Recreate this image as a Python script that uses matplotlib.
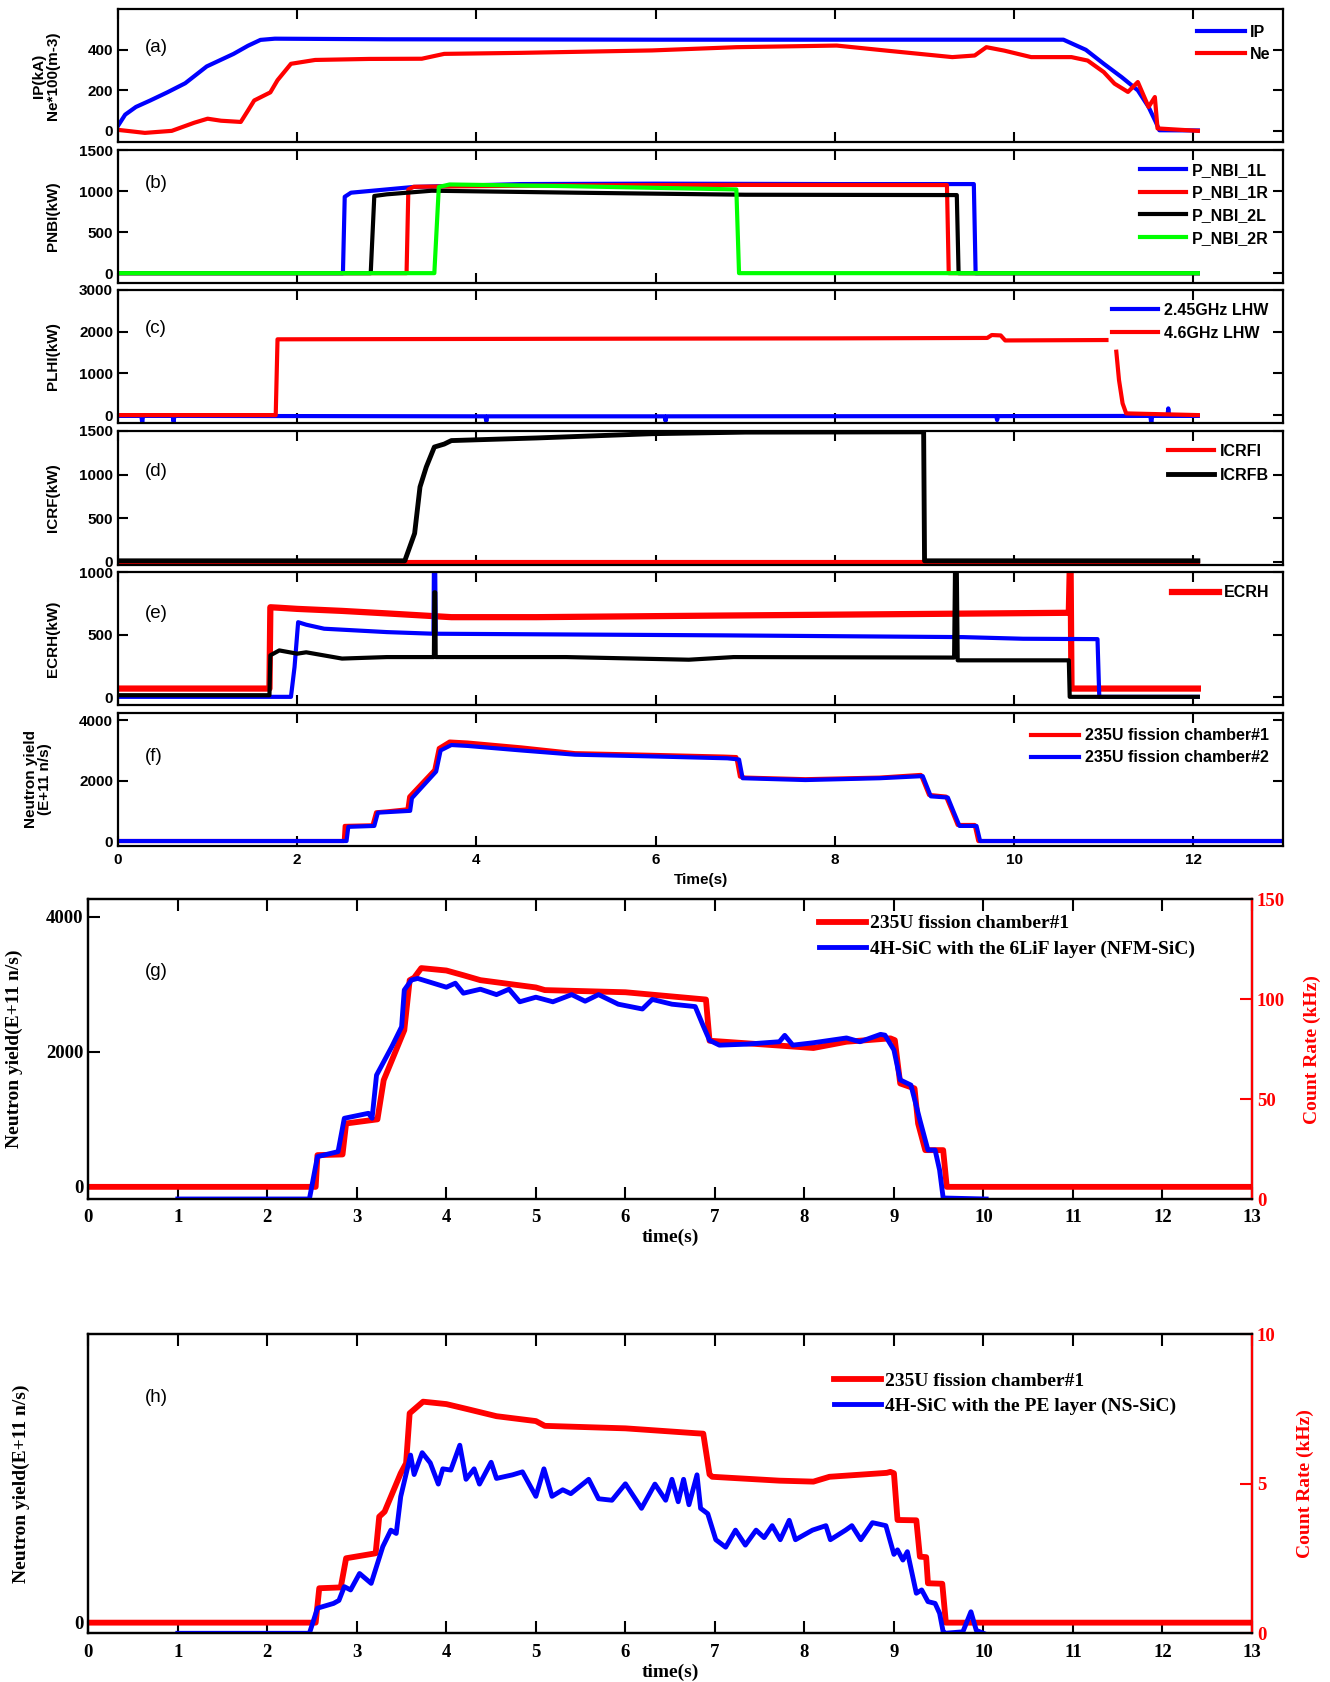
import numpy as np
import matplotlib.pyplot as plt

plt.rcParams['font.family'] = 'Liberation Sans'
plt.rcParams['font.weight'] = 'bold'
plt.rcParams['axes.linewidth'] = 1.6

nan = np.nan

# ---------------- (a) plasma current / density
ip = [(0, 25), (0.08, 80), (0.2, 118), (0.36, 150), (0.55, 190), (0.75, 235), (0.99, 318),
      (1.29, 380), (1.45, 420), (1.59, 449), (1.75, 455), (3.0, 452), (6.0, 450), (9.0, 450),
      (10.55, 450), (10.8, 400), (11.0, 331), (11.2, 265), (11.38, 200), (11.5, 118),
      (11.58, 44), (11.62, 3), (12.05, 2)]
ne = [(0, 5), (0.3, -10), (0.6, 0), (0.85, 40), (1.0, 60), (1.15, 50), (1.37, 44), (1.45, 100),
      (1.52, 150), (1.7, 190), (1.78, 250), (1.93, 331), (2.2, 350), (2.8, 355), (3.39, 356),
      (3.64, 380), (4.5, 385), (5.96, 397), (6.9, 413), (8.02, 421), (8.6, 395), (9.31, 364),
      (9.56, 372), (9.69, 413), (9.89, 396), (10.19, 364), (10.64, 364), (10.82, 347),
      (11.0, 290), (11.12, 233), (11.27, 192), (11.38, 241), (11.5, 118), (11.57, 167),
      (11.6, 12), (12.05, 0)]

# ---------------- (b) NBI
nbi_1l = [(0, 0), (2.51, 0), (2.53, 930), (2.6, 980), (3.3, 1050), (4.5, 1085), (6.0, 1090),
          (8.0, 1085), (9.55, 1085), (9.57, 0), (12.05, 0)]
nbi_1r = [(0, 0), (3.22, 0), (3.24, 1020), (3.3, 1052), (5.0, 1070), (7.0, 1075), (9.25, 1073),
          (9.27, 0), (12.05, 0)]
nbi_2l = [(0, 0), (2.82, 0), (2.86, 940), (3.0, 960), (3.5, 1004), (5.1, 980), (7.0, 955),
          (9.36, 951), (9.38, 0), (12.05, 0)]
nbi_2r = [(0, 0), (3.53, 0), (3.58, 1050), (3.7, 1080), (5.0, 1060), (6.9, 1020), (6.93, 0),
          (12.05, 0)]

# ---------------- (c) LHW
lhw_245 = [(0, -20), (0.26, -20), (0.27, -170), (0.28, -20), (0.61, -20), (0.62, -160),
           (0.63, -20), (4.1, -30), (4.11, -150), (4.12, -30), (6.1, -30), (6.11, -140),
           (6.12, -30), (9.8, -25), (9.81, -120), (9.82, -25), (11.52, -20), (11.53, -200),
           (11.54, -20), (11.71, -20), (11.72, 160), (11.73, -20), (12.05, -20)]
lhw_46 = [(0, 0), (1.76, 0), (1.78, 1817), (2.5, 1820), (5.0, 1830), (8.0, 1840), (9.7, 1850),
          (9.75, 1920), (9.85, 1910), (9.9, 1790), (11.03, 1800), (11.08, nan), (11.14, 1520),
          (11.17, 840), (11.21, 280), (11.25, 40), (12.05, 0)]

# ---------------- (d) ICRF
icrf_i = [(0, 0), (12.05, 0)]
icrf_b = [(0, 10), (3.2, 10), (3.31, 325), (3.37, 858), (3.44, 1087), (3.53, 1316), (3.64, 1350),
          (3.72, 1390), (4.03, 1400), (4.67, 1420), (5.96, 1469), (7.0, 1487), (8.99, 1490),
          (9.0, 10), (12.05, 10)]

# ---------------- (e) ECRH
ecrh_red = [(0, 71), (1.69, 71), (1.70, 719), (1.8, 715), (2.0, 706), (2.5, 690), (3.0, 670),
            (3.72, 640), (4.67, 640), (6.76, 653), (8.0, 660), (10.1, 672), (10.61, 675),
            (10.62, 1000), (10.63, 1000), (10.64, 71), (12.05, 71)]
ecrh_blue = [(0, 5), (1.93, 5), (1.97, 243), (2.01, 600), (2.1, 580), (2.3, 548), (3.0, 521),
             (3.52, 508), (3.525, 1000), (3.54, 1000), (3.545, 508), (6.76, 495), (9.43, 481),
             (10.1, 468), (10.93, 465), (10.95, 5), (12.05, 5)]
ecrh_black = [(0, 18), (1.69, 18), (1.70, 336), (1.8, 375), (2.0, 349), (2.1, 360), (2.5, 310),
              (3.0, 322), (3.525, 322), (3.53, 838), (3.54, 838), (3.545, 322), (5.0, 322),
              (6.37, 301), (6.87, 322), (9.33, 318), (9.34, 1000), (9.36, 1000), (9.37, 296),
              (10.61, 296), (10.62, 5), (12.05, 5)]

# ---------------- (f) neutron yield, two fission chambers
fc1 = [(0, 0), (2.52, 0), (2.53, 500), (2.84, 520), (2.88, 950), (3.0, 980), (3.23, 1050),
       (3.25, 1470), (3.53, 2355), (3.58, 3075), (3.7, 3294), (3.9, 3261), (4.5, 3100),
       (5.1, 2909), (6.0, 2850), (6.76, 2796), (6.9, 2780), (6.94, 2133), (7.0, 2100),
       (7.67, 2047), (8.5, 2100), (8.96, 2189), (9.05, 1526), (9.24, 1470), (9.31, 972),
       (9.37, 531), (9.56, 531), (9.6, 0), (13.0, 0)]
fc2 = [(0, 0), (2.55, 0), (2.57, 470), (2.86, 500), (2.9, 940), (3.26, 1000), (3.28, 1420),
       (3.55, 2300), (3.6, 3000), (3.72, 3180), (3.9, 3150), (4.5, 3000), (5.1, 2860),
       (6.0, 2800), (6.8, 2740), (6.93, 2700), (6.97, 2080), (7.67, 2020), (8.5, 2080),
       (8.98, 2150), (9.07, 1480), (9.26, 1440), (9.33, 930), (9.39, 500), (9.58, 500),
       (9.62, 0), (13.0, 0)]

# ---------------- (g) fission chamber vs NFM-SiC
g_fc = [(0, 0), (2.54, 0), (2.56, 470), (2.84, 480), (2.88, 939), (3.0, 960), (3.23, 1000),
        (3.3, 1581), (3.53, 2321), (3.59, 3061), (3.64, 3098), (3.72, 3241), (4.0, 3205),
        (4.19, 3135), (4.38, 3062), (5.0, 2954), (5.1, 2915), (6.0, 2883), (6.9, 2775),
        (6.94, 2165), (7.72, 2093), (8.1, 2057), (8.47, 2150), (8.96, 2200), (9.01, 2173),
        (9.07, 1532), (9.23, 1458), (9.27, 939), (9.35, 544), (9.55, 544), (9.59, 0), (13.0, 0)]
g_sic = [(1.0, 0), (2.47, 0), (2.56, 21.2), (2.79, 23.7), (2.86, 40.4), (3.13, 42.9),
         (3.17, 40.4), (3.22, 62), (3.39, 76.2), (3.5, 86.2), (3.53, 104.6), (3.61, 109.6),
         (3.68, 110.4), (4.0, 106), (4.1, 108), (4.19, 103), (4.38, 105), (4.56, 102.3),
         (4.7, 105), (4.82, 98.7), (5.0, 101), (5.19, 98.7), (5.4, 102.3), (5.55, 99),
         (5.7, 102.3), (5.92, 97.5), (6.19, 95.1), (6.3, 99.9), (6.52, 97.5), (6.78, 96.3),
         (6.87, 86.6), (6.94, 79.4), (7.05, 77), (7.35, 77.5), (7.72, 78.7), (7.78, 81.9),
         (7.87, 77), (8.1, 78.2), (8.47, 80.6), (8.62, 78.7), (8.85, 82.4), (8.9, 82),
         (9.0, 74.6), (9.07, 59.6), (9.19, 57), (9.29, 39.5), (9.38, 24.5), (9.46, 24.5),
         (9.51, 14.5), (9.55, 0.5), (10.03, 0)]

# ---------------- (h) fission chamber vs NS-SiC
h_fc = [(0, 0), (2.54, 0), (2.58, 498), (2.82, 510), (2.88, 932), (3.21, 1004), (3.25, 1534),
        (3.31, 1606), (3.49, 2162), (3.55, 2307), (3.59, 3030), (3.74, 3198), (4.0, 3163),
        (4.23, 3092), (4.56, 2988), (5.0, 2917), (5.1, 2848), (6.0, 2812), (6.78, 2742),
        (6.87, 2735), (6.94, 2146), (6.97, 2111), (7.72, 2055), (8.1, 2041), (8.28, 2111),
        (8.92, 2168), (8.96, 2182), (9.0, 2162), (9.04, 1486), (9.25, 1481), (9.29, 955),
        (9.36, 948), (9.38, 570), (9.54, 563), (9.58, 0), (13.0, 0)]
h_sic = [(1.0, 0), (2.47, 0), (2.56, 0.84), (2.74, 1.0), (2.8, 1.1), (2.86, 1.56), (2.93, 1.45),
         (3.03, 2.0), (3.16, 1.67), (3.29, 2.9), (3.38, 3.45), (3.44, 3.34), (3.49, 4.57),
         (3.6, 5.96), (3.64, 5.31), (3.73, 6.04), (3.82, 5.7), (3.91, 4.99), (3.96, 5.5),
         (4.05, 5.46), (4.15, 6.29), (4.22, 5.15), (4.31, 5.5), (4.37, 4.99), (4.5, 5.72),
         (4.56, 5.18), (4.74, 5.3), (4.85, 5.4), (5.0, 4.58), (5.09, 5.5), (5.18, 4.58),
         (5.3, 4.8), (5.39, 4.67), (5.59, 5.15), (5.7, 4.5), (5.85, 4.45), (6.0, 5.0),
         (6.18, 4.18), (6.33, 4.99), (6.45, 4.45), (6.52, 5.15), (6.59, 4.4), (6.65, 5.15),
         (6.71, 4.3), (6.8, 5.3), (6.84, 4.18), (6.92, 4.0), (7.01, 3.13), (7.12, 2.88),
         (7.23, 3.45), (7.34, 2.95), (7.46, 3.45), (7.55, 3.2), (7.64, 3.6), (7.73, 3.13),
         (7.83, 3.78), (7.9, 3.13), (8.09, 3.45), (8.24, 3.6), (8.29, 3.13), (8.46, 3.45),
         (8.53, 3.6), (8.63, 3.13), (8.76, 3.7), (8.91, 3.6), (9.0, 2.64), (9.04, 2.79),
         (9.1, 2.45), (9.15, 2.73), (9.25, 1.34), (9.31, 1.45), (9.38, 1.06), (9.46, 1.0),
         (9.51, 0.67), (9.55, 0.05), (9.57, 0), (9.77, 0.05), (9.86, 0.72), (9.92, 0.1),
         (10.0, 0)]

W, H = 1330, 1682
fig = plt.figure(figsize=(W / 100, H / 100), dpi=100)


def box(left, top, right, bottom):
    return fig.add_axes([left / W, 1 - bottom / H, (right - left) / W, (bottom - top) / H])


def xy(pairs):
    a = np.array(pairs, dtype=float)
    return a[:, 0], a[:, 1]


def legend(ax, handles, x, y, size, family, spacing, hlen, tpad=0.35):
    ax.legend(handles=handles, loc='upper left', bbox_to_anchor=(x, y), frameon=False,
              borderpad=0, borderaxespad=0, handlelength=hlen, handletextpad=tpad,
              labelspacing=spacing, prop={'family': family, 'weight': 'bold', 'size': size})


# ---------------- top block (a)-(f)
rows = [(9.3, 142), (150, 283), (290, 423), (431, 565), (572, 705), (713, 846)]
ylims = [(-55, 600), (-120, 1500), (-190, 3000), (-38, 1500), (-60, 1000), (-165, 4240)]
yticks = [[0, 200, 400], [0, 500, 1000, 1500], [0, 1000, 2000, 3000],
          [0, 500, 1000, 1500], [0, 500, 1000], [0, 2000, 4000]]
ylabels = ['IP(kA)\nNe*100(m-3)', 'PNBI(kW)', 'PLHI(kW)', 'ICRF(kW)', 'ECRH(kW)',
           'Neutron yield\n(E+11 n/s)']
tags = ['(a)', '(b)', '(c)', '(d)', '(e)', '(f)']
tag_y = [0.71, 0.75, 0.714, 0.70, 0.69, 0.67]

axs = []
for i, (top, bot) in enumerate(rows):
    ax = box(118, top, 1283, bot)
    ax.set_xlim(0, 13)
    ax.set_ylim(*ylims[i])
    ax.set_xticks(range(0, 13, 2))
    ax.set_yticks(yticks[i])
    ax.tick_params(direction='in', length=7, width=1.5, top=True, right=True,
                   labelsize=11, pad=3.5)
    ax.tick_params(axis='x', pad=5)
    if i < 5:
        ax.tick_params(axis='x', labelbottom=False)
    ax.set_ylabel(ylabels[i], fontsize=11, fontweight='bold', linespacing=1.0)
    ax.yaxis.set_label_coords(-0.05, 0.5)
    ax.text(0.023, tag_y[i], tags[i], transform=ax.transAxes, fontsize=13.5,
            fontweight='normal', va='center', ha='left')
    axs.append(ax)

lw = 3
ax = axs[0]
l1, = ax.plot(*xy(ip), color='#0000ff', lw=lw, label='IP')
l2, = ax.plot(*xy(ne), color='#ff0000', lw=lw, label='Ne')
legend(ax, [l1, l2], 0.926, 0.885, 11.5, 'Liberation Sans', 0.45, 3.0)

ax = axs[1]
h1, = ax.plot(*xy(nbi_1l), color='#0000ff', lw=lw, label='P_NBI_1L')
h2, = ax.plot(*xy(nbi_1r), color='#ff0000', lw=lw, label='P_NBI_1R')
h3, = ax.plot(*xy(nbi_2l), color='black', lw=lw, label='P_NBI_2L')
h4, = ax.plot(*xy(nbi_2r), color='#00ff00', lw=lw, label='P_NBI_2R')
legend(ax, [h1, h2, h3, h4], 0.877, 0.905, 11.5, 'Liberation Sans', 0.48, 2.9)

ax = axs[2]
c1, = ax.plot(*xy(lhw_245), color='#0000ff', lw=lw, label='2.45GHz LHW')
c2, = ax.plot(*xy(lhw_46), color='#ff0000', lw=lw, label='4.6GHz LHW')
legend(ax, [c1, c2], 0.853, 0.905, 11.5, 'Liberation Sans', 0.5, 2.9)

ax = axs[3]
d1, = ax.plot(*xy(icrf_i), color='#ff0000', lw=lw, label='ICRFI')
d2, = ax.plot(*xy(icrf_b), color='black', lw=3.5, label='ICRFB')
legend(ax, [d1, d2], 0.901, 0.905, 11.5, 'Liberation Sans', 0.55, 2.9)

ax = axs[4]
e1, = ax.plot(*xy(ecrh_red), color='#ff0000', lw=4.5, label='ECRH')
ax.plot(*xy(ecrh_blue), color='#0000ff', lw=lw)
ax.plot(*xy(ecrh_black), color='black', lw=lw)
legend(ax, [e1], 0.905, 0.9, 11.5, 'Liberation Sans', 0.3, 2.9)

ax = axs[5]
f1, = ax.plot(*xy(fc1), color='#ff0000', lw=lw, label='235U fission chamber#1')
f2, = ax.plot(*xy(fc2), color='#0000ff', lw=lw, label='235U fission chamber#2')
legend(ax, [f1, f2], 0.784, 0.885, 11.5, 'Liberation Sans', 0.45, 3.0)
ax.yaxis.set_label_coords(-0.057, 0.5)
ax.set_xlabel('Time(s)', fontsize=11, fontweight='bold')
ax.xaxis.set_label_coords(0.5, -0.2)
ax.xaxis.label.set_va('top')

# ---------------- bottom panels (g), (h)
serif = 'Liberation Serif'


def bottom_panel(top, bot, ylim_left, yt_left, ylim_right, yt_right, fc, sic, tag, labels,
                 leg_x, leg_y, right_label_x, left_label_x):
    ax = box(88.3, top, 1252, bot)
    ax.set_xlim(0, 13)
    ax.set_xticks(range(0, 14))
    ax.set_ylim(*ylim_left)
    ax.set_yticks(yt_left)
    ax.tick_params(direction='in', length=8.5, width=1.5, top=True, right=True,
                   labelsize=13.5, pad=3.5)
    ax.tick_params(axis='x', pad=7.5)
    r1, = ax.plot(*xy(fc), color='#ff0000', lw=4.2, label=labels[0])
    ax.set_ylabel('Neutron yield(E+11 n/s)', fontsize=14, fontweight='bold', family=serif)
    ax.yaxis.set_label_coords(left_label_x, 0.5)
    ax.set_xlabel('time(s)', fontsize=14, fontweight='bold', family=serif)
    ax.xaxis.set_label_coords(0.5, -0.1)
    ax.xaxis.label.set_va('top')
    ax.text(0.049, tag[1], tag[0], transform=ax.transAxes, fontsize=13.5,
            fontweight='normal', va='center', ha='left')

    tw = ax.twinx()
    tw.set_ylim(*ylim_right)
    tw.set_yticks(yt_right)
    tw.tick_params(axis='y', direction='in', length=8.5, width=1.5, colors='#ff0000',
                   labelsize=13.5, pad=3.5)
    tw.spines['right'].set_color('#ff0000')
    b1, = tw.plot(*xy(sic), color='#0000ff', lw=3.5, label=labels[1])
    tw.set_ylabel('Count Rate (kHz)', fontsize=14, fontweight='bold', family=serif,
                  color='#ff0000')
    tw.yaxis.set_label_coords(right_label_x, 0.5)
    legend(tw, [r1, b1], leg_x, leg_y, 14, serif, 0.38, 2.4, 0.2)

    for lab in ax.get_xticklabels() + ax.get_yticklabels() + tw.get_yticklabels():
        lab.set_fontfamily(serif)
        lab.set_fontweight('bold')
    return ax, tw


bottom_panel(899.3, 1199, (-180, 4260), [0, 2000, 4000], (0, 150), [0, 50, 100, 150],
             g_fc, g_sic, ('(g)', 0.76),
             ['235U fission chamber#1', '4H-SiC with the 6LiF layer (NFM-SiC)'],
             0.628, 0.948, 1.044, -0.056)
bottom_panel(1334.3, 1633.3, (-154, 4173), [0], (0, 10), [0, 5, 10],
             h_fc, h_sic, ('(h)', 0.79),
             ['235U fission chamber#1', '4H-SiC with the PE layer (NS-SiC)'],
             0.641, 0.872, 1.038, -0.05)

fig.savefig('out.png', dpi=100)
